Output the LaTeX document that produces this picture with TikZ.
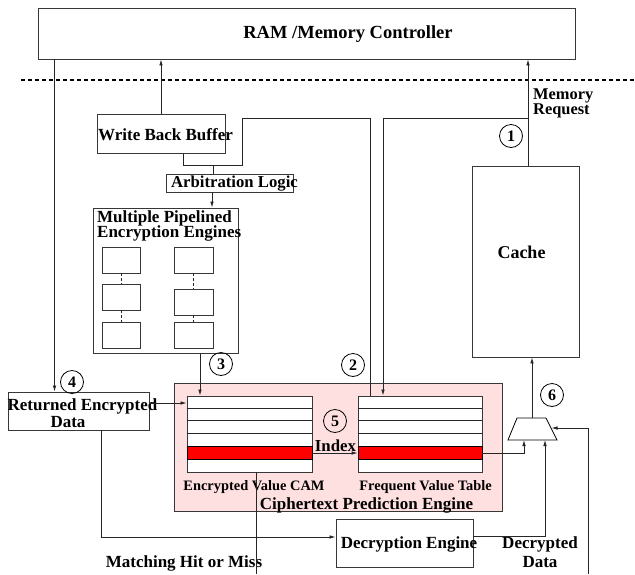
\documentclass[tikz,border=0pt]{standalone}
\usepackage{fontspec}
\setmainfont{Liberation Serif}
\usetikzlibrary{arrows.meta}
\definecolor{cpebg}{RGB}{255,224,224}
\definecolor{edge}{RGB}{55,55,55}
\definecolor{hitred}{RGB}{255,0,0}
\newcommand{\fsz}[1]{\fontsize{#1}{#1}\selectfont\bfseries}
\begin{document}
\begin{tikzpicture}[x=1pt,y=-1pt,
  blk/.style={draw=edge,line width=0.9pt,inner sep=0pt},
  wire/.style={draw=black!85,line width=0.8pt},
  arr/.style={wire,-{Latex[length=6pt,width=3.6pt]}},
  lbl/.style={inner sep=0pt,anchor=base},
  num/.style={circle,draw=black,line width=0.8pt,minimum size=23pt,inner sep=0pt,font=\fsz{16}},
  row/.style={draw=black,line width=0.8pt,inner sep=0pt,minimum width=125pt,minimum height=12.667pt},
]
\useasboundingbox (0,0) rectangle (635,574);

% memory side
\node[blk,minimum width=537pt,minimum height=51pt] (ram) at (306.5,33.5) {};
\node[lbl,font=\fsz{18.5}] (ramtxt) at (348,38) {RAM /Memory Controller};
\draw[line width=1.3pt,dash pattern=on 4pt off 3pt] (21,80) -- (635,80);

% write path
\node[blk,minimum width=128pt,minimum height=39pt] (wbb) at (161,133.5) {};
\node[lbl,font=\fsz{17}] (wbbtxt) at (165.5,140) {Write Back Buffer};
\node[blk,minimum width=127pt,minimum height=18pt] (arb) at (229.5,183) {};
\node[lbl,font=\fsz{16.7}] (arbtxt) at (234.5,187.5) {Arbitration Logic};
\node[blk,minimum width=145pt,minimum height=145pt] (mpee) at (165.5,280.5) {};
\node[inner sep=0pt,anchor=north west,align=left,font=\fontsize{17}{15.5}\selectfont\bfseries] (mpeetxt) at (97,210) {Multiple Pipelined\\Encryption Engines};

% pipelined engine stages
\foreach \c/\x/\w in {L/121/38,R/193.5/39}{
  \node[blk,minimum width=\w pt,minimum height=26pt] (e1\c) at (\x,260) {};
  \node[blk,minimum width=\w pt,minimum height=26pt] (e3\c) at (\x,335) {};
}
\node[blk,minimum width=38pt,minimum height=26pt] (e2L) at (121,297) {};
\node[blk,minimum width=39pt,minimum height=26pt] (e2R) at (193.5,302) {};
\foreach \c in {L,R}{
  \draw[wire,dash pattern=on 3pt off 2pt] (e1\c.south) -- (e2\c.north);
  \draw[wire,dash pattern=on 3pt off 2pt] (e2\c.south) -- (e3\c.north);
}

% cache
\node[blk,minimum width=107pt,minimum height=191pt] (cache) at (525.5,261.5) {};
\node[lbl,font=\fsz{18}] (cachetxt) at (521.5,258) {Cache};
\node[inner sep=0pt,anchor=north west,align=left,font=\fontsize{16.4}{15}\selectfont\bfseries] (mreqtxt) at (533,88.5) {Memory\\Request};

% ciphertext prediction engine
\node[blk,fill=cpebg,minimum width=328pt,minimum height=128pt] (cpe) at (338,447) {};
\node[blk,fill=white,minimum width=125pt,minimum height=76pt] (cam) at (249.5,434) {};
\node[blk,fill=white,minimum width=124pt,minimum height=76pt] (fvt) at (420,434) {};
\foreach \k in {1,...,5}{
  \draw[wire] ([yshift={-\k*76/6}]cam.north west) -- ([yshift={-\k*76/6}]cam.north east);
  \draw[wire] ([yshift={-\k*76/6}]fvt.north west) -- ([yshift={-\k*76/6}]fvt.north east);
}
\node[row,fill=hitred] (camhit) at (249.5,453) {};
\node[row,fill=hitred,minimum width=124pt] (fvthit) at (420,453) {};
\node[lbl,font=\fsz{14.4}] (camtxt) at (254,490) {Encrypted Value CAM};
\node[lbl,font=\fsz{14.4}] (fvttxt) at (425.5,490) {Frequent Value Table};
\node[lbl,font=\fsz{17}] (cpetxt) at (366.5,509) {Ciphertext Prediction Engine};
\node[lbl,font=\fsz{16.8}] (idxtxt) at (335.5,451) {Index};

% returned data and decryption
\node[blk,minimum width=141pt,minimum height=38pt] (ret) at (78.5,411) {};
\node[lbl,font=\fsz{17}] (rettxt1) at (82.5,410) {Returned Encrypted};
\node[lbl,font=\fsz{17}] (rettxt2) at (68,427) {Data};
\node[blk,minimum width=137pt,minimum height=48pt] (dec) at (404.5,543) {};
\node[lbl,font=\fsz{17}] (dectxt) at (409,548) {Decryption Engine};
\node[lbl,font=\fsz{17}] (ddtxt1) at (540,548) {Decrypted};
\node[lbl,font=\fsz{17}] (ddtxt2) at (540,567) {Data};
\node[lbl,font=\fsz{17}] (hittxt) at (184,567) {Matching Hit or Miss};

% selector (trapezoid multiplexer)
\coordinate (muxtop) at (532,418);
\coordinate (muxinA) at (524,440);
\coordinate (muxinB) at (545,440);
\coordinate (muxsel) at (551.5,428);
\draw[line width=0.8pt] (517,418) -- (546,418) -- (557,440) -- (508,440) -- cycle;

% step numbers
\node[num] (n1) at (511,136) {1};
\node[num] (n2) at (353,365) {2};
\node[num] (n3) at (221,364) {3};
\node[num] (n4) at (72,382) {4};
\node[num] (n5) at (335,421) {5};
\node[num] (n6) at (552,395) {6};

% helper points for the wiring
\coordinate (mreq) at ([xshift=2.5]cache.north);
\coordinate (bus) at (242,118);
\coordinate (join) at (242,165);
\coordinate (arbin) at ([xshift=-16.5]arb.north);
\coordinate (arbout) at ([xshift=-17.5]arb.south);
\coordinate (encout) at ([xshift=34.5]mpee.south);
\coordinate (retout) at ([yshift=8]ret.east);
\coordinate (retdown) at ([xshift=22.5]ret.south);
\coordinate (decin) at ([yshift=6]dec.west);
\coordinate (decout) at ([yshift=7]dec.east);
\coordinate (selin) at (588,574);
\coordinate (hitout) at (256,574);

% connectors
\draw[arr] ([xshift=17]ram.south west) -- ([xshift=47]ret.north west);
\draw[arr] (wbb.north) -- (wbb.north |- ram.south);
\draw[arr] (mreq) -- (mreq |- ram.south);
\draw[arr] (mreq |- bus) -| ([xshift=-37]fvt.north);
\draw[wire] ([xshift=-50]fvt.north) |- (bus) -- (join) -| ([xshift=22]wbb.south);
\draw[wire] (arbin |- join) -- (arbin);
\draw[arr] (arbout) -- (arbout |- mpee.north);
\draw[arr] (encout) -- (encout |- cam.north);
\draw[arr] (retout) -- (retout -| cam.west);
\draw[arr] (camhit.east) -- (fvthit.west);
\draw[arr] (fvthit.east) -| (muxinA);
\draw[arr] (decout) -| (muxinB);
\draw[arr] (selin) |- (muxsel);
\draw[arr] (muxtop) -- (muxtop |- cache.south);
\draw[arr] (retdown) |- (decin);
\draw[wire] (hitout |- cam.south) -- (hitout);
\end{tikzpicture}
\end{document}
